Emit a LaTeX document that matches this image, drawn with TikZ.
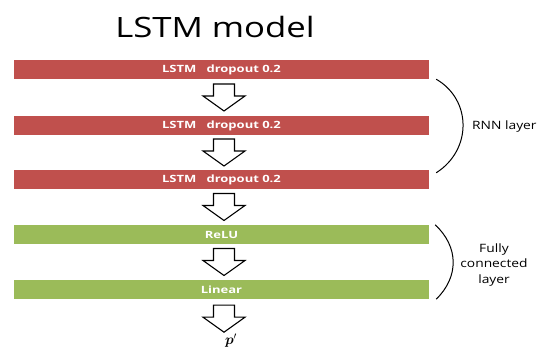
\documentclass[tikz,border=0pt]{standalone}
\usepackage{fontspec}
\setmainfont{Open Sans}
\usepackage{bm}
\usetikzlibrary{calc}
\definecolor{lstmred}{HTML}{C0504D}
\definecolor{fcgreen}{HTML}{9BBB59}
\newcommand{\widetxt}[2][1.2]{\scalebox{#1}[1]{#2}}
\tikzset{
  bar/.style={minimum width=415pt, minimum height=19pt, inner sep=0pt, text=white, font=\bfseries\fontsize{10}{12}\selectfont},
  rnnbar/.style={bar, fill=lstmred},
  fcbar/.style={bar, fill=fcgreen},
  downarr/.pic={\draw[line width=1.1pt, fill=white] (-10.5,13.5) -- (10.5,13.5) -- (10.5,1.5) -- (21,1.5) -- (0,-13.5) -- (-21,1.5) -- (-10.5,1.5) -- cycle;},
  side/.style={font=\fontsize{11.5}{15.5}\selectfont, align=center}
}
\begin{document}
\begin{tikzpicture}[x=1pt,y=1pt]
    \useasboundingbox (0,0) rectangle (537,347);
    \node[font=\fontsize{28}{34}\selectfont, anchor=base, inner sep=0pt] (title) at (215,309) {\widetxt[1.24]{LSTM model}};
    % layers
    \node[rnnbar] (l1) at (221.5,277.5) {\widetxt[1.3]{LSTM\ \ \ dropout 0.2}};
    \node[rnnbar] (l2) at (221.5,221.5) {\widetxt[1.3]{LSTM\ \ \ dropout 0.2}};
    \node[rnnbar] (l3) at (221.5,167.5) {\widetxt[1.3]{LSTM\ \ \ dropout 0.2}};
    \node[fcbar] (relu) at (221.5,112.5) {\widetxt[1.3]{ReLU}};
    \node[fcbar] (lin) at (221.5,57.5) {\widetxt[1.3]{Linear}};
    \node[anchor=base, inner sep=0pt, font=\fontsize{14}{16}\selectfont] (out) at (231,2) {$\bm{p}'$};
    % arrows between layers
    \pic at ($(l1.south)!.5!(l2.north)+(2.5,0)$) {downarr};
    \pic at ($(l2.south)!.5!(l3.north)+(2.5,0)$) {downarr};
    \pic at ($(l3.south)!.5!(relu.north)+(2.5,0)$) {downarr};
    \pic at ($(relu.south)!.5!(lin.north)+(2.5,0)$) {downarr};
    \pic at ($(lin.south)+(2.5,-19.5)$) {downarr};
    % braces
    \coordinate (r1) at ($(l1.south east)+(7,0)$);
    \coordinate (r2) at ($(l3.north east)+(7,-3)$);
    \draw[line width=1pt] (r1) .. controls (472,247) and (472,197) .. (r2);
    \node[side, anchor=west, inner sep=1pt] (rnn) at (471,220) {\widetxt{RNN layer}};
    \coordinate (f1) at ($(relu.north east)+(6,0)$);
    \coordinate (f2) at ($(lin.south east)+(7,0)$);
    \draw[line width=1pt] (f1) .. controls (459,100) and (459,70) .. (f2);
    \node[side] (fc) at (494,82) {\widetxt{Fully}\\\widetxt{connected}\\\widetxt{layer}};
\end{tikzpicture}
\end{document}
